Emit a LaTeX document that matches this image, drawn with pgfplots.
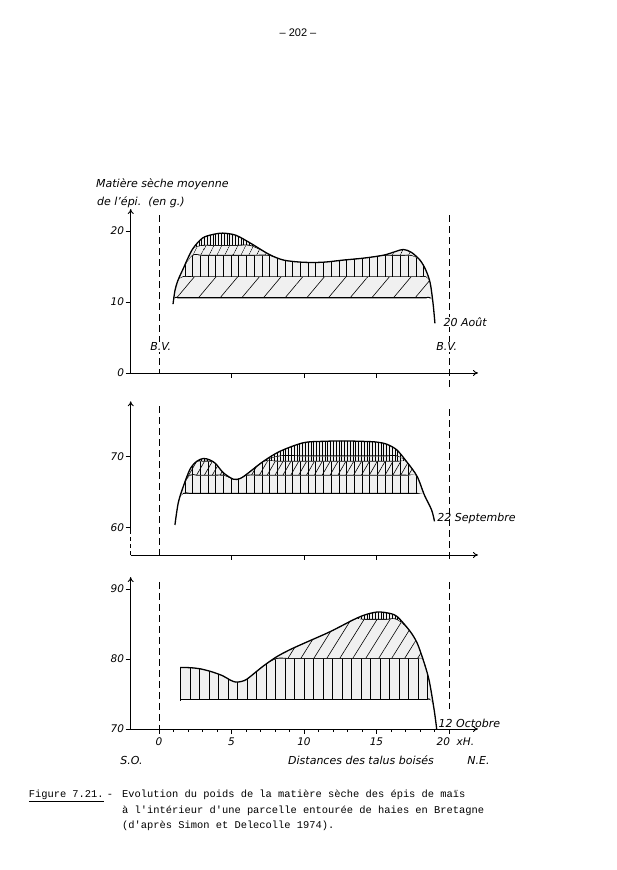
\documentclass[border=0pt]{standalone}
\usepackage{fontspec}
\setmainfont{DejaVu Sans}
\newfontfamily\tw{Liberation Mono}
\newfontfamily\pn{Liberation Sans}
\usepackage{pgfplots}
\usepackage{pgfplotstable}
\pgfplotsset{compat=1.18}
\usetikzlibrary{patterns.meta,arrows.meta}

\newcommand\lf{\fontsize{11}{13}\selectfont\itshape}

% courbes (x en H, y en g)
\pgfplotstableread{
x y
0.97 9.7
1.1 11.6
1.3 13.0
1.65 14.6
2.3 17.4
3.0 19.0
3.7 19.5
4.4 19.7
5.3 19.4
6.3 18.3
7.6 16.7
8.6 15.9
9.9 15.6
11.3 15.6
12.7 15.9
14.2 16.2
15.5 16.6
16.3 17.1
16.85 17.4
17.4 17.0
18.0 15.9
18.4 14.5
18.7 12.7
18.9 9.8
19.03 7.0
}\aout
\pgfplotstableread{
x y
1.10 60.4
1.33 63.5
1.68 65.8
2.14 68.2
2.6 69.3
3.06 69.7
3.5 69.5
3.9 69.0
4.44 67.7
5.13 66.8
5.6 66.9
6.05 67.5
7.2 69.3
8.34 70.7
9.95 71.9
11.3 72.1
12.7 72.15
14.0 72.1
15.0 72.0
15.7 71.7
16.4 70.9
17.1 69.2
17.8 67.2
18.3 64.6
18.8 62.5
19.0 60.9
}\sept
\pgfplotstableread{
x y
1.5 78.8
2.2 78.75
2.83 78.6
3.6 78.2
4.4 77.6
4.9 77.0
5.3 76.7
5.7 76.8
6.05 77.1
6.6 78.0
7.2 79.0
8.1 80.3
9.0 81.3
9.95 82.2
11.8 83.9
13.4 85.6
14.2 86.3
15.0 86.7
15.7 86.6
16.4 86.1
17.3 84.0
17.8 82.3
18.2 80.0
18.5 78.0
18.7 76.2
19.0 72.4
19.15 70.0
}\octo

\tikzset{
  bv/.style={line width=0.9pt, dash pattern=on 7pt off 4pt},
  gv/.style={preaction={fill=black!6}, pattern={Lines[angle=90,distance=#1,line width=0.6pt]}},
  gd/.style 2 args={preaction={fill=black!6}, pattern={Lines[angle=#2,distance=#1,line width=0.6pt]}},
  blk/.style={fill=black},
  wht/.style={fill=white, draw=white, line width=1.6pt},
}
\pgfplotsset{
  panel/.style={
    scale only axis, width=347.3pt, xmin=-1.95, xmax=22,
    axis x line=bottom, axis y line=left,
    axis line style={line width=0.9pt, -{To[length=5pt,width=6pt]}},
    tick align=outside, major tick length=5pt, minor tick length=3pt,
    tick style={line width=0.8pt, black},
    tick label style={font=\fontsize{10.5}{12}\selectfont\itshape},
    yticklabel style={inner sep=1.5pt},
    /pgf/number format/assume math mode=true,
    clip mode=individual, anchor=south west,
  },
  curve/.style={smooth, line width=1.3pt, black},
}
% surface sous la courbe, coupee a la hauteur #2 (les bandes sont peintes du haut vers le bas)
\newcommand\paint[3]{\addplot[smooth, draw=none, #3] table[y expr={min(\thisrow{y},#2)}] {#1} \closedcycle;}

\begin{document}
\begin{tikzpicture}
\fill[white] (0pt,0pt) rectangle (616pt,870pt);

% ---- 20 Aout ----
\begin{axis}[panel, at={(130.7pt,497pt)}, height=164pt,
  ymin=0, ymax=23.1, ytick={0,10,20}, xtick={5,10,15}, xticklabels={}]
\paint{\aout}{30}{gv=2.8pt}
\paint{\aout}{18.02}{blk}
\paint{\aout}{17.9}{gd={6.5pt}{63}}
\paint{\aout}{16.62}{blk}
\paint{\aout}{16.5}{gv=7.7pt}
\paint{\aout}{13.62}{blk}
\paint{\aout}{13.5}{gd={16.6pt}{50}}
\paint{\aout}{10.68}{blk}
\paint{\aout}{10.4}{wht}
\addplot[curve] table {\aout};
\draw[bv] (axis cs:0,22.25) -- (axis cs:0,0);
\draw[bv] (axis cs:20,22.25) -- (axis cs:20,-2.4);
\end{axis}

% ---- 22 Septembre ----
\begin{axis}[panel, at={(130.7pt,315pt)}, height=153.7pt,
  ymin=56.2, ymax=77.7, ytick={60,70}, xtick={5,10,15}, xticklabels={},
  y axis line style={draw=none}]
\paint{\sept}{80}{gv=2.8pt}
\paint{\sept}{70.12}{blk}
\paint{\sept}{70.0}{gv=2.8pt}
\paint{\sept}{69.37}{blk}
\paint{\sept}{69.25}{gv=7.7pt, postaction={pattern={Lines[angle=60,distance=6.8pt,line width=0.6pt]}}}
\paint{\sept}{67.42}{blk}
\paint{\sept}{67.3}{gv=7.7pt}
\paint{\sept}{64.88}{blk}
\paint{\sept}{64.6}{wht}
\addplot[curve] table {\sept};
\draw[line width=0.9pt, -{To[length=5pt,width=6pt]}] (axis cs:-1.95,59.3) -- (axis cs:-1.95,77.7);
\draw[line width=0.9pt, dash pattern=on 4pt off 3pt] (axis cs:-1.95,56.2) -- (axis cs:-1.95,59.3);
\draw[bv] (axis cs:0,77.0) -- (axis cs:0,55.6);
\draw[bv] (axis cs:20,76.6) -- (axis cs:20,55.6);
\end{axis}

% ---- 12 Octobre ----
\begin{axis}[panel, at={(130.7pt,141pt)}, height=151.9pt,
  ymin=70, ymax=91.7, ytick={70,80,90},
  xtick={0,5,10,15,20}, xticklabels={0,5,10,15,},
  minor xtick={1,2,3,4,6,7,8,9,11,12,13,14,16,17,18,19}]
\paint{\octo}{95}{gv=2.8pt}
\paint{\octo}{85.72}{blk}
\paint{\octo}{85.6}{gd={11pt}{58}}
\paint{\octo}{80.12}{blk}
\paint{\octo}{80}{gv=9.5pt}
\paint{\octo}{74.28}{blk}
\paint{\octo}{74}{wht}
\addplot[curve] table {\octo};
\addplot[line width=1.1pt] coordinates {(1.5,74) (1.5,78.8)};
\draw[bv] (axis cs:0,91.0) -- (axis cs:0,70);
\draw[bv] (axis cs:20,91.0) -- (axis cs:20,72.8);
\end{axis}

% ---- textes ----
\node[anchor=base] at (298pt,833pt) {\pn\fontsize{11}{13}\selectfont – 202 –};
\node[anchor=base west, inner sep=0pt] at (96pt,682pt) {\lf Matière sèche moyenne};
\node[anchor=base west, inner sep=0pt] at (97pt,664pt) {\lf de l'épi.\ \ (en g.)};
\node[fill=white, inner sep=1pt] at (160.7pt,523.3pt) {\lf B.V.};
\node[fill=white, inner sep=1pt] at (446.7pt,523.3pt) {\lf B.V.};
\node[anchor=west, fill=white, inner sep=0.5pt] at (443pt,548pt) {\lf 20 Août};
\node[anchor=west, inner sep=0.5pt] at (436.7pt,351.7pt) {\lf 22 Septembre};
\node[anchor=west, inner sep=0.5pt] at (438pt,146.7pt) {\lf 12 Octobre};
\node[anchor=west, inner sep=0pt] at (436.5pt,128pt) {\fontsize{10.5}{12}\selectfont\itshape 20\ \ xH.};
\node at (131.5pt,110pt) {\lf S.O.};
\node at (361pt,110pt) {\lf Distances des talus boisés};
\node at (478.5pt,110pt) {\lf N.E.};

\begin{scope}[font=\tw\fontsize{10.4}{12}\selectfont]
\node[anchor=base west, inner sep=0pt] at (28.6pt,72pt) {\underline{Figure 7.21.}};
\node[anchor=base, inner sep=0pt] at (110pt,72pt) {-};
\node[anchor=base west, inner sep=0pt] at (122pt,72pt) {Evolution du poids de la matière sèche des épis de maïs};
\node[anchor=base west, inner sep=0pt] at (122pt,56.5pt) {à l'intérieur d'une parcelle entourée de haies en Bretagne};
\node[anchor=base west, inner sep=0pt] at (122pt,41pt) {(d'après Simon et Delecolle 1974).};
\end{scope}
\end{tikzpicture}
\end{document}
